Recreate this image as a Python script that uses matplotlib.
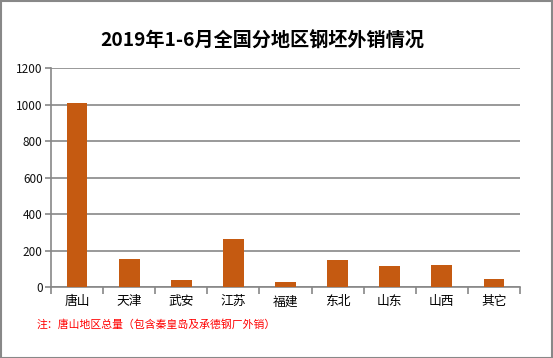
import matplotlib
matplotlib.use("Agg")
import matplotlib.pyplot as plt
from matplotlib.patches import Rectangle
import numpy as np

plt.rcParams['font.family'] = ['Noto Sans CJK SC', 'DejaVu Sans']

categories = ['唐山', '天津', '武安', '江苏', '福建', '东北', '山东', '山西', '其它']
values = [1005, 150, 36, 260, 25, 145, 112, 117, 41]
title = '2019年1-6月全国分地区钢坯外销情况'
note = '注：唐山地区总量（包含秦皇岛及承德钢厂外销）'
yticks = [0, 200, 400, 600, 800, 1000, 1200]

W, H = 553, 358
fig = plt.figure(figsize=(W / 100, H / 100), dpi=100)
ax = fig.add_axes([51 / W, 1 - 287 / H, (520 - 51) / W, (287 - 68.3) / H])

grid_c = '#878787'
bar_c = '#C55A11'

x = np.arange(len(categories))
ax.bar(x, values, width=0.4, color=bar_c, zorder=3, bottom=2)
ax.set_xlim(-0.5, len(categories) - 0.5)
ax.set_ylim(0, 1200)
ax.set_yticks(yticks)
ax.set_yticklabels([str(v) for v in yticks], fontsize=8.5, color='#111111')
ax.yaxis.grid(True, color=grid_c, linewidth=1.2, zorder=0)
ax.set_axisbelow(True)

ax.set_xticks(x)
ax.set_xticklabels(categories, fontsize=9.2, color='black')
ax.tick_params(axis='x', which='major', length=0, pad=6)
ax.set_xticks(np.arange(-0.5, len(categories), 1), minor=True)
ax.tick_params(axis='x', which='minor', length=5, color=grid_c, width=1.2)
ax.tick_params(axis='y', length=4, color=grid_c, width=1.2, pad=2)

for s in ['top', 'right']:
    ax.spines[s].set_visible(False)
for s in ['left', 'bottom']:
    ax.spines[s].set_color(grid_c)
    ax.spines[s].set_linewidth(1.2)

fig.text(262 / W, 1 - 41 / H, title, ha='center', va='center',
         fontsize=13.8, fontweight='bold', color='black')
fig.text(37 / W, 1 - 324 / H, note, ha='left', va='center',
         fontsize=7.8, color='#FF0000')

fig.add_artist(Rectangle((0.5 / W, 0.5 / H), 1 - 1.5 / W, 1 - 1.5 / H,
                         transform=fig.transFigure, fill=False,
                         edgecolor='#888888', linewidth=1.5))

fig.savefig('out.png', dpi=100)
